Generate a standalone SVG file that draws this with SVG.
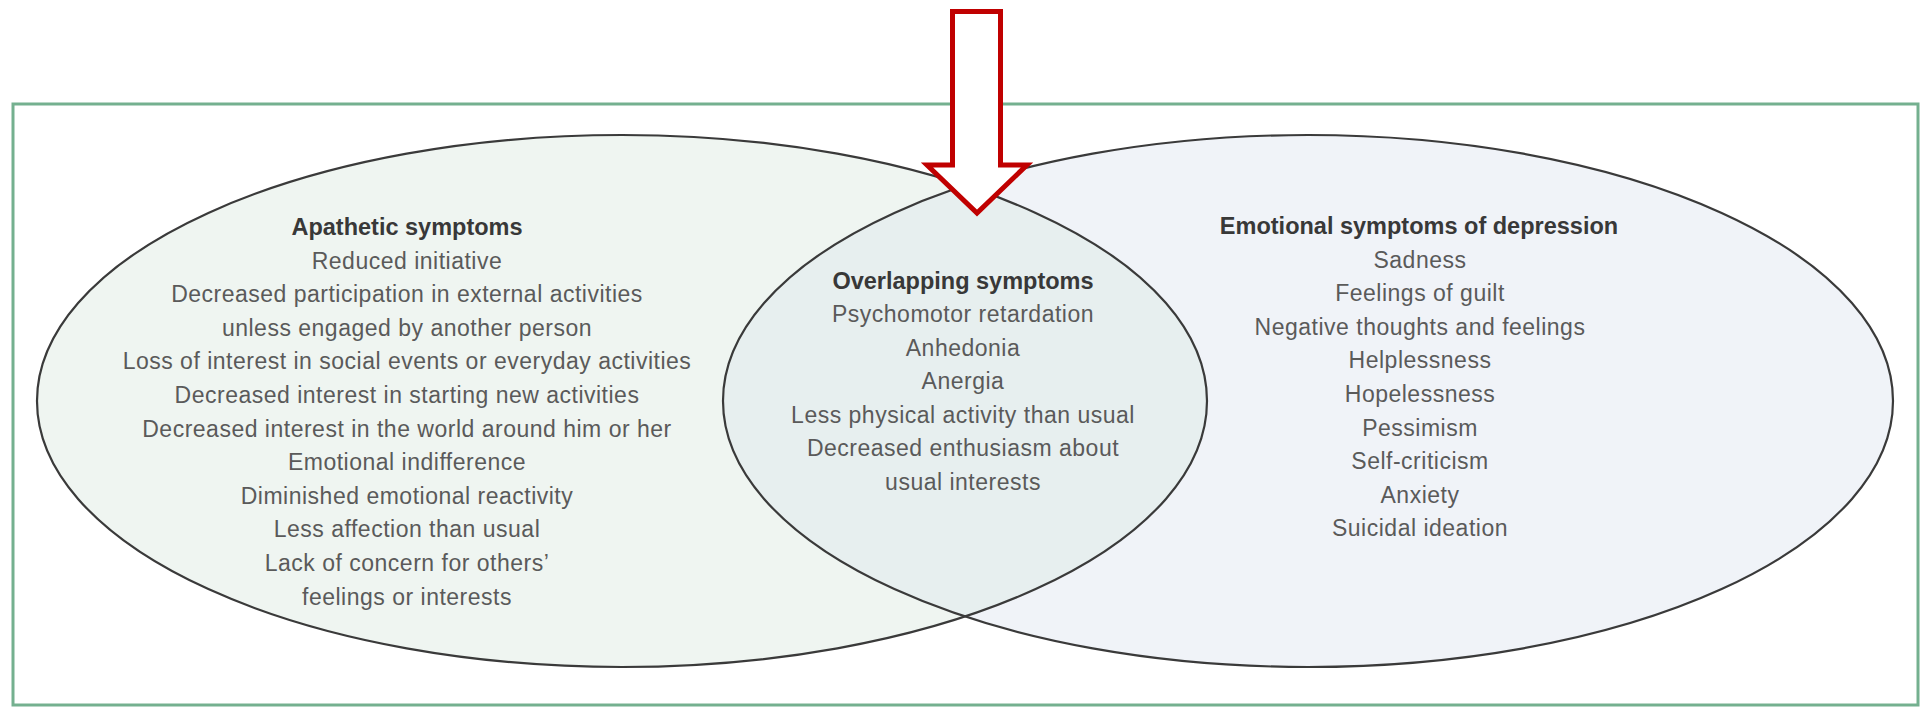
<svg xmlns="http://www.w3.org/2000/svg" width="1921" height="707" viewBox="0 0 1921 707">
<style>
.frame{fill:#ffffff;stroke:#74b08f;stroke-width:3}
.ell{fill:none;stroke:#3a3a3a;stroke-width:2.2}
.hd{font-family:"Liberation Sans",Arial,sans-serif;font-size:23.5px;font-weight:bold;fill:#383838;text-anchor:middle}
.tx{font-family:"Liberation Sans",Arial,sans-serif;font-size:23px;letter-spacing:0.5px;fill:#5a5a5a;text-anchor:middle}
.arrow{fill:#ffffff;stroke:#c00000;stroke-width:5;stroke-linejoin:miter}
</style>
<defs>
<clipPath id="clipL"><ellipse cx="622" cy="401" rx="585" ry="266"/></clipPath>
</defs>
<rect class="frame" x="13" y="104" width="1905" height="601"/>
<g id="apathetic">
<ellipse cx="622" cy="401" rx="585" ry="266" fill="#eff5f1"/>
</g>
<g id="emotional">
<ellipse cx="1308" cy="401" rx="585" ry="266" fill="#f0f3f8"/>
</g>
<g id="overlap">
<ellipse cx="1308" cy="401" rx="585" ry="266" fill="#e7efef" clip-path="url(#clipL)"/>
</g>
<ellipse class="ell" cx="622" cy="401" rx="585" ry="266"/>
<ellipse class="ell" cx="1308" cy="401" rx="585" ry="266"/>
<g id="apathetic-text">
<text class="hd" x="407" y="235">Apathetic symptoms</text>
<text class="tx" x="407" y="268.6">Reduced initiative</text>
<text class="tx" x="407" y="302.2">Decreased participation in external activities</text>
<text class="tx" x="407" y="335.8">unless engaged by another person</text>
<text class="tx" x="407" y="369.4">Loss of interest in social events or everyday activities</text>
<text class="tx" x="407" y="403">Decreased interest in starting new activities</text>
<text class="tx" x="407" y="436.6">Decreased interest in the world around him or her</text>
<text class="tx" x="407" y="470.2">Emotional indifference</text>
<text class="tx" x="407" y="503.8">Diminished emotional reactivity</text>
<text class="tx" x="407" y="537.4">Less affection than usual</text>
<text class="tx" x="407" y="571">Lack of concern for others’</text>
<text class="tx" x="407" y="604.6">feelings or interests</text>
</g>
<g id="overlap-text">
<text class="hd" x="963" y="288.5">Overlapping symptoms</text>
<text class="tx" x="963" y="322">Psychomotor retardation</text>
<text class="tx" x="963" y="355.6">Anhedonia</text>
<text class="tx" x="963" y="389.2">Anergia</text>
<text class="tx" x="963" y="422.8">Less physical activity than usual</text>
<text class="tx" x="963" y="456.4">Decreased enthusiasm about</text>
<text class="tx" x="963" y="490">usual interests</text>
</g>
<g id="emotional-text">
<text class="hd" x="1419" y="234">Emotional symptoms of depression</text>
<text class="tx" x="1420" y="267.6">Sadness</text>
<text class="tx" x="1420" y="301.2">Feelings of guilt</text>
<text class="tx" x="1420" y="334.8">Negative thoughts and feelings</text>
<text class="tx" x="1420" y="368.4">Helplessness</text>
<text class="tx" x="1420" y="402">Hopelessness</text>
<text class="tx" x="1420" y="435.6">Pessimism</text>
<text class="tx" x="1420" y="469.2">Self-criticism</text>
<text class="tx" x="1420" y="502.8">Anxiety</text>
<text class="tx" x="1420" y="536.4">Suicidal ideation</text>
</g>
<g id="connectors">
<polygon class="arrow" points="952.5,11.5 1000.5,11.5 1000.5,165 1027,165 977,213 927,165 952.5,165"/>
</g>
</svg>
